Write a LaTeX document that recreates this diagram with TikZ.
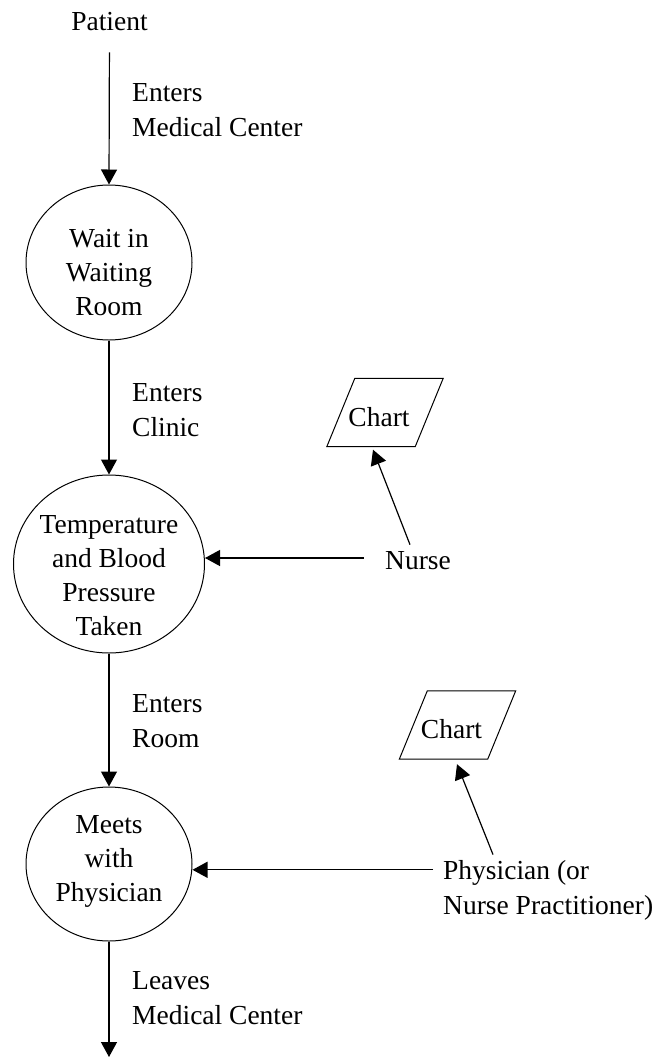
\documentclass[tikz,border=0pt]{standalone}
\usepackage{fontspec}
\setmainfont{Liberation Serif}
\usetikzlibrary{shapes.geometric,arrows.meta}
\begin{document}
\begin{tikzpicture}[x=1pt,y=-1pt,
  every node/.style={font=\fontsize{27.5}{34}\selectfont},
  proc/.style={draw,ellipse,line width=1pt,inner sep=0pt},
  txt/.style={inner sep=0pt},
  lbl/.style={align=left,anchor=west,inner sep=0pt,font=\fontsize{27.5}{35}\selectfont},
  docbox/.style={minimum width=116pt,minimum height=68pt,inner sep=0pt},
  docline/.style={line width=1pt},
  arr/.style={line width=1.2pt,-{Triangle[width=16pt,length=15pt]}}]
\path[use as bounding box] (0,0) rectangle (659,1058);
% main column
\node[txt] (patient) at (109.5,21.5) {Patient};
\node[proc,minimum width=166pt,minimum height=155pt,
  label={[yshift=-10pt,align=center]center:Wait in\\Waiting\\Room}] (wait) at (109,262.5) {};
\node[proc,minimum width=191pt,minimum height=178pt,
  label={[yshift=-12pt,align=center]center:Temperature\\and Blood\\Pressure\\Taken}] (temp) at (109,564) {};
\node[proc,minimum width=166pt,minimum height=154pt,
  label={[yshift=3pt,align=center]center:Meets\\with\\Physician}] (meets) at (109,864) {};
\coordinate (exit) at (109,1057);
% flow labels
\node[lbl] (l1) at (132,110.3) {Enters\\Medical Center};
\node[lbl] (l2) at (132,410.3) {Enters\\Clinic};
\node[lbl] (l3) at (132,721.3) {Enters\\Room};
\node[lbl] (l4) at (132,998.3) {Leaves\\Medical Center};
% side actors
\node[txt] (nurse) at (418,561) {Nurse};
\node[lbl] (phys) at (443,890.3) {Physician (or\\Nurse Practitioner)};
% chart documents (parallelograms)
\node[docbox,label={[xshift=-6pt,yshift=-5pt]center:Chart}] (chart1) at (385,412.5) {};
\node[docbox,label={[xshift=-6pt,yshift=-4pt]center:Chart}] (chart2) at (457.5,725) {};
\foreach \c in {chart1,chart2}
  \draw[docline] (\c.south west) -- ([xshift=-28pt]\c.south east) -- (\c.north east)
    -- ([xshift=28pt]\c.north west) -- cycle;
% connectors
\draw[arr,shorten <=21.5pt] (patient.south) -- (wait.north);
\draw[arr] (wait.south) -- (temp.north);
\draw[arr] (temp.south) -- (meets.north);
\draw[arr] (meets.south) -- (exit);
\coordinate (n1) at ([xshift=-21pt,yshift=3pt]nurse.west);
\draw[arr] (n1) -- (n1 -| temp.east);
\draw[arr] ([xshift=-8pt,yshift=7pt]nurse.north) -- ([xshift=-12pt,yshift=-3pt]chart1.south);
\coordinate (p1) at ([xshift=-10pt,yshift=20.5pt]phys.west);
\draw[arr] (p1) -- (p1 -| meets.east);
\draw[arr] ([xshift=50pt,yshift=5.6pt]phys.north west) -- ([xshift=-0.5pt,yshift=-5pt]chart2.south);
\end{tikzpicture}
\end{document}
